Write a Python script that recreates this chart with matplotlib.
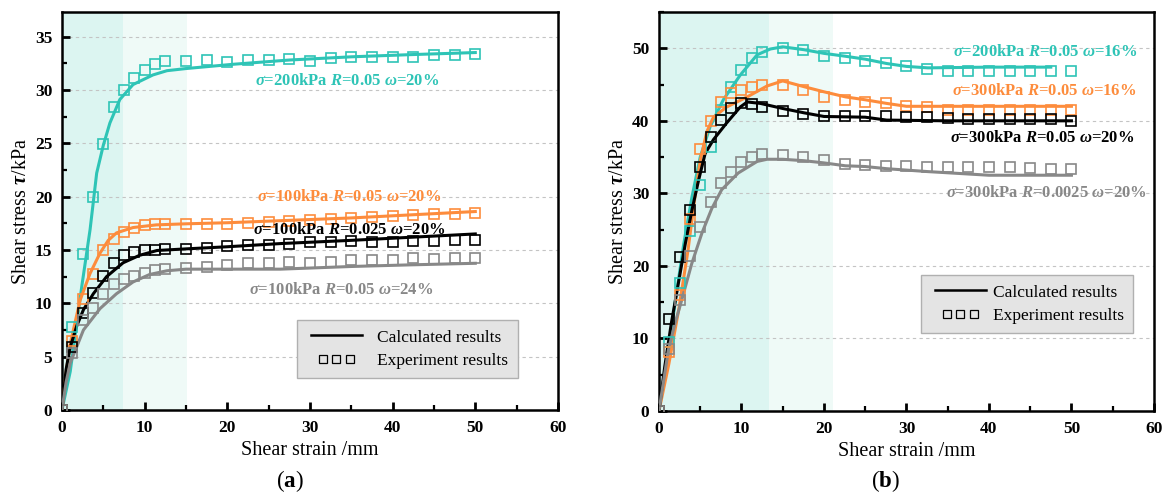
import matplotlib
matplotlib.use("Agg")
import matplotlib.pyplot as plt
from matplotlib.lines import Line2D
from matplotlib.legend_handler import HandlerLine2D
from matplotlib.ticker import MultipleLocator

plt.rcParams["font.family"] = ["Liberation Serif", "DejaVu Serif"]
plt.rcParams["mathtext.fontset"] = "custom"
plt.rcParams["mathtext.rm"] = "Liberation Serif:bold"
plt.rcParams["mathtext.it"] = "Liberation Serif:italic:bold"
plt.rcParams["mathtext.bf"] = "Liberation Serif:bold"

TEAL = "#2ec4b6"
ORANGE = "#fd8c3c"
BLACK = "#000000"
GREY = "#888888"

# experiment sampling positions (mm)
x_exp = [0, 1.25, 2.5, 3.75, 5, 6.25, 7.5, 8.75, 10, 11.25, 12.5, 15, 17.5, 20,
         22.5, 25, 27.5, 30, 32.5, 35, 37.5, 40, 42.5, 45, 47.5, 50]

# ---- panel (a) ----
a_teal_exp = [0, 7.8, 14.6, 20.0, 24.9, 28.4, 30.0, 31.1, 31.9, 32.4, 32.7, 32.7, 32.8,
              32.6, 32.8, 32.8, 32.9, 32.7, 33.0, 33.1, 33.1, 33.1, 33.1, 33.3, 33.3, 33.4]
a_orange_exp = [0, 6.5, 10.4, 12.7, 15.0, 16.0, 16.7, 17.1, 17.35, 17.4, 17.4, 17.4, 17.4,
                17.4, 17.5, 17.6, 17.7, 17.8, 17.9, 18.0, 18.1, 18.2, 18.3, 18.4, 18.4, 18.45]
a_black_exp = [0, 5.9, 9.1, 11.0, 12.6, 13.8, 14.5, 14.8, 14.95, 14.95, 15.1, 15.1, 15.15,
               15.35, 15.45, 15.5, 15.6, 15.7, 15.7, 15.85, 15.7, 15.7, 15.8, 15.8, 15.9, 15.9]
a_grey_exp = [0, 5.3, 8.4, 9.6, 10.85, 11.8, 12.3, 12.55, 12.8, 13.1, 13.2, 13.3, 13.4,
              13.6, 13.75, 13.75, 13.85, 13.8, 13.9, 14.1, 14.1, 14.1, 14.2, 14.15, 14.2, 14.2]

a_teal_x = [0, 1.0, 2.4, 3.4, 4.2, 5.0, 5.8, 7.0, 8.6, 11.0, 12.7, 15, 20.7, 27.5, 35, 42, 50]
a_teal_y = [0, 3.6, 11.6, 16.9, 22.2, 24.8, 26.9, 29.1, 30.5, 31.4, 31.8, 32.0, 32.4, 32.8, 33.1, 33.3, 33.5]
a_orange_x = [0, 0.5, 1.0, 2.2, 3.4, 4.6, 5.6, 6.6, 8.6, 11.4, 15, 20, 25, 30, 35, 40, 45, 50]
a_orange_y = [0, 3.5, 6.2, 10.3, 12.8, 14.7, 15.9, 16.6, 17.1, 17.35, 17.45, 17.55, 17.7, 17.85, 18.0, 18.2, 18.4, 18.6]
a_black_x = [0, 0.5, 1.0, 1.8, 2.6, 3.8, 5.4, 7.4, 9.4, 11.5, 15, 20, 26.5, 35, 40, 45, 50]
a_black_y = [0, 3.8, 5.9, 7.9, 9.4, 10.9, 12.5, 13.8, 14.5, 14.95, 15.1, 15.3, 15.6, 15.9, 16.1, 16.3, 16.5]
a_grey_x = [0, 0.5, 1.0, 2.6, 4.6, 6.6, 8.6, 10.6, 12.7, 15, 20.7, 26.4, 35, 42, 50]
a_grey_y = [0, 2.6, 4.4, 7.5, 9.5, 10.9, 12.0, 12.7, 13.05, 13.2, 13.2, 13.2, 13.45, 13.6, 13.75]

a_labels = [r"$\sigma$=200kPa $R$=0.05 $\omega$=20%",
            r"$\sigma$=100kPa $R$=0.05 $\omega$=20%",
            r"$\sigma$=100kPa $R$=0.025 $\omega$=20%",
            r"$\sigma$=100kPa $R$=0.05 $\omega$=24%"]
a_label_pos = [(34.5, 30.8), (34.8, 20.0), (34.8, 16.9), (33.8, 11.25)]

# ---- panel (b) ----
b_teal_exp = [0, 9.5, 17.7, 24.8, 31.1, 36.4, 41.5, 44.7, 47.0, 48.6, 49.5, 50.1, 49.7,
              49.0, 48.6, 48.3, 48.0, 47.6, 47.1, 46.9, 46.9, 46.9, 46.9, 46.9, 46.9, 46.9]
b_orange_exp = [0, 8.15, 16.0, 26.5, 36.1, 40.0, 42.6, 43.9, 44.3, 44.6, 44.9, 44.9, 44.2,
                43.3, 42.9, 42.6, 42.4, 42.0, 41.9, 41.5, 41.5, 41.5, 41.5, 41.5, 41.5, 41.5]
b_black_exp = [0, 12.75, 21.2, 27.7, 33.7, 37.8, 40.1, 41.7, 42.4, 42.3, 41.9, 41.4, 40.9,
               40.7, 40.7, 40.6, 40.6, 40.5, 40.5, 40.4, 40.3, 40.25, 40.25, 40.25, 40.2, 40.0]
b_grey_exp = [0, 8.5, 15.3, 21.4, 25.3, 28.8, 31.4, 33.0, 34.3, 35.05, 35.4, 35.3, 35.0,
              34.6, 34.1, 33.9, 33.8, 33.8, 33.7, 33.7, 33.6, 33.6, 33.6, 33.5, 33.3, 33.3]

b_teal_x = [0, 1, 2, 3, 4, 5, 6.2, 7.8, 9.85, 11.9, 13.5, 15, 17.6, 20, 22.6, 25, 27.6, 30, 32.6, 40, 47.5]
b_teal_y = [0, 7.0, 15.3, 23.0, 29.5, 35.0, 39.2, 42.9, 46.3, 49.1, 49.9, 50.2, 49.8, 49.3, 48.9, 48.5, 47.9, 47.5, 47.3, 47.4, 47.4]
b_orange_x = [0, 1.2, 2.4, 3.5, 4.3, 5.0, 5.8, 6.6, 8.2, 10.7, 13.1, 15, 17.6, 20, 22.6, 25, 27.6, 30, 40, 50]
b_orange_y = [0, 6.5, 14.0, 22.0, 29.0, 34.5, 38.5, 40.5, 41.9, 43.3, 44.8, 45.5, 44.7, 44.0, 43.3, 42.9, 42.4, 42.0, 42.0, 42.0]
b_black_x = [0, 0.7, 1.5, 2.35, 3.2, 4.0, 4.8, 5.6, 6.6, 8.2, 9.85, 10.7, 12.3, 15, 17.6, 20, 25, 27.6, 35, 50]
b_black_y = [0, 6.1, 12.1, 17.6, 23.1, 27.7, 31.8, 35.5, 37.4, 39.7, 41.9, 42.6, 42.4, 41.7, 41.1, 40.6, 40.5, 40.1, 40.0, 40.0]
b_grey_x = [0, 1.14, 1.95, 2.76, 3.97, 5.2, 6.4, 7.6, 9.6, 11.9, 13.1, 15, 17.6, 20, 22.6, 25, 27.6, 32.6, 40, 50]
b_grey_y = [0, 8.4, 12.1, 15.3, 20.3, 24.5, 27.9, 30.5, 32.8, 34.4, 34.7, 34.7, 34.5, 34.2, 33.8, 33.7, 33.4, 33.0, 32.5, 32.5]

b_labels = [r"$\sigma$=200kPa $R$=0.05 $\omega$=16%",
            r"$\sigma$=300kPa $R$=0.05 $\omega$=16%",
            r"$\sigma$=300kPa $R$=0.05 $\omega$=20%",
            r"$\sigma$=300kPa $R$=0.0025 $\omega$=20%"]
b_label_pos = [(46.8, 49.5), (46.7, 44.15), (46.5, 37.6), (47.0, 30.1)]

colors = [TEAL, ORANGE, BLACK, GREY]
legend_text = ["Calculated results", "Experiment results"]


def draw_panel(ax, exp_series, calc_series, labels, label_pos, bands, ylim, ymajor, yminor):
    # shaded strain zones behind everything
    ax.axvspan(0, bands[0], color="#dcf5f1", lw=0, zorder=0)
    ax.axvspan(bands[0], bands[1], color="#effaf7", lw=0, zorder=0)
    ax.set_axisbelow(True)
    ax.yaxis.grid(True, linestyle=(0, (3, 3)), color="#c4c4c4", linewidth=0.8)

    for (cx, cy), c in zip(calc_series, colors):
        ax.plot(cx, cy, color=c, lw=2.2, zorder=3)
    for ey, c in zip(exp_series, colors):
        ax.plot(x_exp, ey, ls="none", marker="s", ms=6.5, mfc="none", mec=c, mew=1.2, zorder=4)

    for txt, (tx, ty), c in zip(labels, label_pos, colors):
        ax.text(tx, ty, txt, color=c, fontsize=12, fontweight="bold", ha="center", va="center", zorder=5)

    ax.set_xlim(0, 60)
    ax.set_ylim(*ylim)
    ax.xaxis.set_major_locator(MultipleLocator(10))
    ax.xaxis.set_minor_locator(MultipleLocator(5))
    ax.yaxis.set_major_locator(MultipleLocator(ymajor))
    ax.yaxis.set_minor_locator(MultipleLocator(yminor))
    ax.tick_params(which="both", direction="in", top=False, right=False)
    ax.tick_params(which="major", length=6, width=2, labelsize=12.5, pad=7)
    ax.tick_params(which="minor", length=3.5, width=1.6)
    for lab in ax.get_xticklabels() + ax.get_yticklabels():
        lab.set_fontweight("bold")
    for sp in ax.spines.values():
        sp.set_linewidth(1.8)

    ax.set_xlabel("Shear strain /mm", fontsize=14.5, labelpad=4)
    ax.set_ylabel(r"Shear stress $\tau$/kPa", fontsize=14.5, labelpad=3)


def add_legend(ax, anchor, textpad, hlen):
    line = Line2D([], [], color="black", lw=1.8)
    squares = Line2D([], [], ls="none", marker="s", ms=6, mfc="none", mec="black", mew=0.9)
    ax.legend([line, squares], legend_text, loc="lower right",
              bbox_to_anchor=anchor, borderaxespad=0, numpoints=3,
              handler_map={squares: HandlerLine2D(numpoints=3, marker_pad=0.95)},
              handlelength=hlen, handletextpad=textpad, fontsize=12.5, fancybox=False,
              facecolor="#e4e4e4", edgecolor="#b0b0b0", framealpha=1,
              borderpad=0.55, labelspacing=0.4)


fig = plt.figure(figsize=(11.69, 4.98), dpi=100)
ax_a = fig.add_axes([0.0530, 0.1767, 0.4243, 0.7992])
ax_b = fig.add_axes([0.5637, 0.1747, 0.4234, 0.8012])

draw_panel(ax_a, [a_teal_exp, a_orange_exp, a_black_exp, a_grey_exp],
           [(a_teal_x, a_teal_y), (a_orange_x, a_orange_y),
            (a_black_x, a_black_y), (a_grey_x, a_grey_y)],
           a_labels, a_label_pos, (7.4, 15.1), (0, 37.3), 5, 2.5)
add_legend(ax_a, (0.919, 0.080), 0.6, 3.5)

draw_panel(ax_b, [b_teal_exp, b_orange_exp, b_black_exp, b_grey_exp],
           [(b_teal_x, b_teal_y), (b_orange_x, b_orange_y),
            (b_black_x, b_black_y), (b_grey_x, b_grey_y)],
           b_labels, b_label_pos, (13.3, 21.1), (0, 55), 10, 5)
add_legend(ax_b, (0.958, 0.195), 0.1, 3.5)

fig.text(290 / 1169, 1 - 481 / 498, r"($\mathbf{a}$)", fontsize=16.5, ha="center", va="center")
fig.text(885 / 1169, 1 - 481 / 498, r"($\mathbf{b}$)", fontsize=16.5, ha="center", va="center")

fig.savefig("out.png", dpi=100)
